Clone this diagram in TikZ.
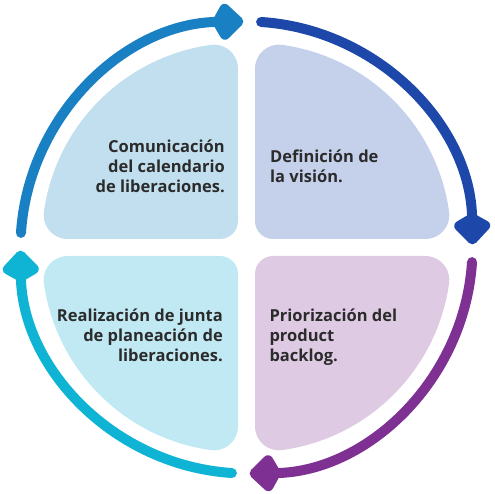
\documentclass[tikz,border=0pt]{standalone}
\usepackage{fontspec}
\setmainfont{Open Sans}
\usepackage{tikz}
\usetikzlibrary{arrows.meta}

\definecolor{petalTL}{HTML}{C2DFEF}
\definecolor{petalTR}{HTML}{C5D0EA}
\definecolor{petalBR}{HTML}{DFCAE4}
\definecolor{petalBL}{HTML}{C1E9F3}
\definecolor{ringTL}{HTML}{1A80C4}
\definecolor{ringTR}{HTML}{1D47A8}
\definecolor{ringBR}{HTML}{7E3193}
\definecolor{ringBL}{HTML}{0FB3D3}
\definecolor{txt}{HTML}{2B2B2B}

\tikzset{
  ring/.style={line width=10pt, line cap=round, -{Kite[length=34pt,width=42pt,inset=12pt,round]}},
  label/.style={inner sep=0pt, text=txt, font=\bfseries\fontsize{16.5}{19.7}\selectfont}
}

% one rounded quarter disc, turned by #1
\newcommand{\petal}[2]{%
  \begin{scope}[rotate=#1,shift={(8.5,8.5)}]
    \fill[#2] (0,18) -- (0,170.32) arc[start angle=180,end angle=81.98,radius=24]
      arc[start angle=81.98,end angle=8.02,radius=196]
      arc[start angle=8.02,end angle=-90,radius=24]
      -- (18,0) arc[start angle=270,end angle=180,radius=18] -- cycle;
  \end{scope}}

\begin{document}
\begin{tikzpicture}[x=1pt,y=1pt]
\useasboundingbox (-246.5,-246.5) rectangle (248.5,247.5);

% quarters
\petal{0}{petalTR}
\petal{90}{petalTL}
\petal{180}{petalBL}
\petal{270}{petalBR}

% arrows round the circle
\draw[ring,ringTL] (176.3:226) arc[start angle=176.3,end angle=90.8,radius=226];
\draw[ring,ringTR] (86.3:226) arc[start angle=86.3,end angle=0.8,radius=226];
\draw[ring,ringBR] (-3.7:226) arc[start angle=-3.7,end angle=-89.2,radius=226];
\draw[ring,ringBL] (-93.7:226) arc[start angle=-93.7,end angle=-179.2,radius=226];

% texts (base = last line)
\node[label,align=right,anchor=base east] (comunicacion) at (-21.5,55.4) {Comunicación\\del calendario\\de liberaciones.};
\node[label,align=left,anchor=base west] (vision) at (23.5,65.1) {Definición de\\la visión.};
\node[label,align=left,anchor=base west] (backlog) at (22.8,-113.6) {Priorización del\\product\\backlog.};
\node[label,align=right,anchor=base east] (junta) at (-23.5,-113.6) {Realización de junta\\de planeación de\\liberaciones.};
\end{tikzpicture}
\end{document}
